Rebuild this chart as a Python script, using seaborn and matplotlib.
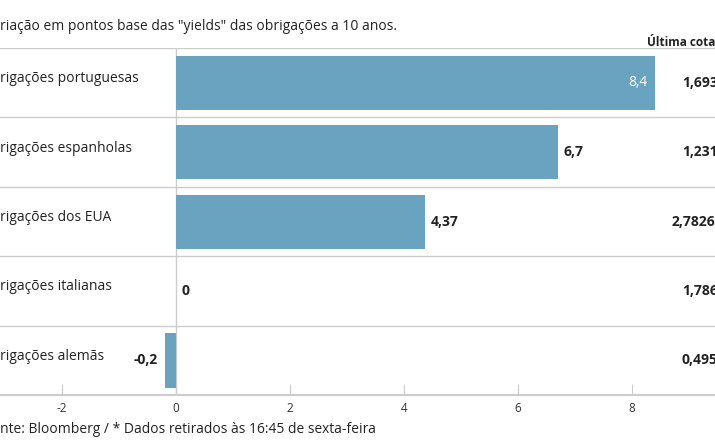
import matplotlib
matplotlib.use("Agg")
import matplotlib.pyplot as plt
import seaborn as sns
import pandas as pd

categories = ["rigações portuguesas", "rigações espanholas", "rigações dos EUA", "rigações italianas", "rigações alemãs"]
values = [8.4, 6.7, 4.37, 0, -0.2]
value_labels = ["8,4", "6,7", "4,37", "0", "-0,2"]
last_quote = ["1,693", "1,231", "2,7826", "1,786", "0,495"]
ticks = [-2, 0, 2, 4, 6, 8]
tick_labels = ["-2", "0", "2", "4", "6", "8"]

plt.rcParams["font.family"] = "Open Sans"
df = pd.DataFrame({"cat": categories, "val": values})
fig = plt.figure(figsize=(7.15, 4.45), dpi=100)
ax = fig.add_axes([0, 0.112, 1, 0.78])
color = "#6aa3bf"
sns.barplot(data=df, x="val", y="cat", orient="h", color=color, width=0.78,
            saturation=1, ax=ax, zorder=3)
xmin, xmax = -3.09, 9.46
ax.set_xlim(xmin, xmax)
ax.set_ylim(4.5, -0.5)
for s in ["top", "right", "left"]:
    ax.spines[s].set_visible(False)
ax.spines["bottom"].set_color("#cccccc")
ax.spines["bottom"].set_linewidth(1.5)
ax.set_yticks([])
ax.set_ylabel("")
ax.set_xlabel("")
ax.set_xticks(ticks)
ax.set_xticklabels(tick_labels, fontsize=8.5, color="#333333")
ax.tick_params(axis="x", direction="in", length=8, color="#cccccc", pad=5)
for y in [-0.5, 0.5, 1.5, 2.5, 3.5]:
    ax.axhline(y, color="#cccccc", lw=1, zorder=1)
ax.axvline(0, color="#cccccc", lw=1, zorder=1)

for i, (c, v, lab, q) in enumerate(zip(categories, values, value_labels, last_quote)):
    ax.text(xmin, i - 0.06, c, ha="left", va="center", fontsize=10, color="#222222")
    if v > 8:
        ax.text(v - 0.12, i, lab, ha="right", va="center", fontsize=10, color="white")
    elif v < 0:
        ax.text(v - 0.12, i, lab, ha="right", va="center", fontsize=10, fontweight="bold", color="#222222")
    else:
        ax.text(v + 0.1, i, lab, ha="left", va="center", fontsize=10, fontweight="bold", color="#222222")
    xq = 8.88 if len(q) < 6 else 8.70
    ax.text(xq, i, q, ha="left", va="center", fontsize=10, fontweight="bold", color="#222222")

fig.text(0, 0.94, 'riação em pontos base das "yields" das obrigações a 10 anos.', fontsize=10, color="#222222", va="center")
fig.text(0.905, 0.907, "Última cotação", fontsize=8.5, fontweight="bold", color="#222222", va="center")
fig.text(0, 0.034, "nte: Bloomberg / * Dados retirados às 16:45 de sexta-feira", fontsize=10, color="#222222", va="center")
fig.savefig("out.png", dpi=100)
